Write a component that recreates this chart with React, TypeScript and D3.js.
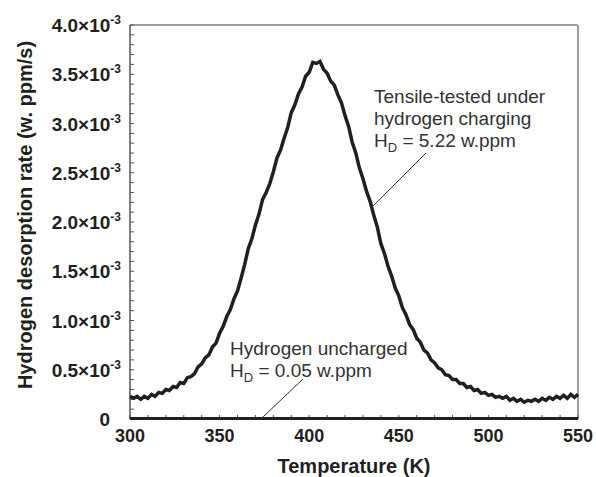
import React from "react";
import * as d3 from "d3";

// Temperature grid (K) and desorption rates (×10^-3 w.ppm/s)
const temps: number[] = [
  300, 302, 304, 306, 308, 310, 312, 314, 316, 318, 320, 322, 324, 326, 328, 330, 332, 334, 336, 338,
  340, 342, 344, 346, 348, 350, 352, 354, 356, 358, 360, 362, 364, 366, 368, 370, 372, 374, 376, 378,
  380, 382, 384, 386, 388, 390, 392, 394, 396, 398, 400, 402, 404, 406, 408, 410, 412, 414, 416, 418,
  420, 422, 424, 426, 428, 430, 432, 434, 436, 438, 440, 442, 444, 446, 448, 450, 452, 454, 456, 458,
  460, 462, 464, 466, 468, 470, 472, 474, 476, 478, 480, 482, 484, 486, 488, 490, 492, 494, 496, 498,
  500, 502, 504, 506, 508, 510, 512, 514, 516, 518, 520, 522, 524, 526, 528, 530, 532, 534, 536, 538,
  540, 542, 544, 546, 548, 550,
];
const chargedRate: number[] = [
  0.23, 0.21, 0.23, 0.20, 0.23, 0.21, 0.25, 0.23, 0.27, 0.26, 0.30, 0.29, 0.33, 0.32, 0.37, 0.36, 0.42, 0.43, 0.46, 0.53,
  0.56, 0.62, 0.65, 0.73, 0.77, 0.87, 0.94, 1.04, 1.11, 1.22, 1.30, 1.43, 1.57, 1.73, 1.83, 1.97, 2.08, 2.23, 2.30, 2.39,
  2.51, 2.65, 2.73, 2.85, 2.96, 3.11, 3.19, 3.30, 3.37, 3.48, 3.52, 3.62, 3.61, 3.63, 3.55, 3.51, 3.43, 3.39, 3.29, 3.21,
  3.08, 2.97, 2.81, 2.70, 2.55, 2.44, 2.31, 2.21, 2.07, 1.95, 1.78, 1.68, 1.55, 1.45, 1.33, 1.25, 1.13, 1.06, 0.96, 0.91,
  0.82, 0.78, 0.70, 0.67, 0.60, 0.57, 0.52, 0.50, 0.45, 0.44, 0.40, 0.40, 0.36, 0.36, 0.32, 0.33, 0.29, 0.30, 0.26, 0.27,
  0.24, 0.25, 0.22, 0.23, 0.21, 0.23, 0.19, 0.21, 0.18, 0.20, 0.17, 0.19, 0.18, 0.20, 0.18, 0.21, 0.19, 0.22, 0.20, 0.23,
  0.21, 0.24, 0.21, 0.25, 0.22, 0.25,
];
const unchargedTemps: number[] = [300, 325, 350, 375, 400, 425, 450, 475, 500, 525, 550];
const unchargedRate: number[] = [0.005, 0.006, 0.005, 0.006, 0.005, 0.004, 0.006, 0.005, 0.005, 0.004, 0.005];

const xTicks: number[] = [300, 350, 400, 450, 500, 550];
const yTicks: number[] = [0, 0.5, 1.0, 1.5, 2.0, 2.5, 3.0, 3.5, 4.0];

const xTitle = "Temperature (K)";
const yTitle = "Hydrogen desorption rate (w. ppm/s)";
const chargedLabel = ["Tensile-tested under", "hydrogen charging"];
const chargedHD = "= 5.22 w.ppm";
const unchargedLabel = ["Hydrogen uncharged"];
const unchargedHD = "= 0.05 w.ppm";

const W = 596;
const H = 477;
const M = { left: 130, right: 578, top: 25, bottom: 419 };
const INK = "#231f20";
const AXIS = "#808080";
const FONT = "'Liberation Sans', Arial, Helvetica, sans-serif";

export default function App() {
  const x = d3.scaleLinear().domain([300, 550]).range([M.left, M.right]);
  const y = d3.scaleLinear().domain([0, 4.0]).range([M.bottom, M.top]);

  const line = d3
    .line<[number, number]>()
    .x((d) => x(d[0]))
    .y((d) => y(d[1]));

  const chargedPts: [number, number][] = temps.map((t, i) => [t, chargedRate[i]]);
  const unchargedPts: [number, number][] = unchargedTemps.map((t, i) => [t, unchargedRate[i]]);

  const xMinor = d3.range(300, 551, 10);
  const yMinor = d3.range(0, 4.001, 0.1);

  const fmt = (v: number) => v.toFixed(1);

  return (
    <svg
      width={W}
      height={H}
      style={{ position: "absolute", left: 0, top: 0, background: "#fff" }}
      fontFamily={FONT}
    >
      {/* frame */}
      <line x1={M.left} x2={M.right} y1={M.top} y2={M.top} stroke={AXIS} strokeWidth={1.5} />
      <line x1={M.right} x2={M.right} y1={M.top} y2={M.bottom} stroke={AXIS} strokeWidth={1.5} />
      <line x1={M.left} x2={M.left} y1={M.top} y2={M.bottom} stroke="#555" strokeWidth={1.5} />
      <line x1={M.left} x2={M.right} y1={M.bottom} y2={M.bottom} stroke="#555" strokeWidth={1.5} />

      {/* y ticks */}
      {yMinor.map((v, i) => (
        <line key={"ym" + i} x1={M.left} x2={M.left + 4} y1={y(v)} y2={y(v)} stroke="#555" strokeWidth={1} />
      ))}
      {/* x ticks */}
      {xMinor.map((v, i) => (
        <line key={"xm" + i} x1={x(v)} x2={x(v)} y1={M.bottom} y2={M.bottom - 4} stroke="#555" strokeWidth={1} />
      ))}

      {/* y tick labels */}
      {yTicks.map((v) =>
        v === 0 ? (
          <text key={"yl" + v} x={110} y={y(v) + 7} textAnchor="end" fontSize={19} fontWeight="bold" fill={INK}>
            0
          </text>
        ) : (
          <text key={"yl" + v} x={121} y={y(v) + 7} textAnchor="end" fontSize={19} fontWeight="bold" fill={INK}>
            {fmt(v)}×10
            <tspan fontSize={12} dy={-8}>
              -3
            </tspan>
          </text>
        )
      )}

      {/* x tick labels */}
      {xTicks.map((v) => (
        <text key={"xl" + v} x={x(v)} y={442} textAnchor="middle" fontSize={18} fontWeight="bold" fill={INK}>
          {v}
        </text>
      ))}

      {/* axis titles */}
      <text x={(M.left + M.right) / 2} y={473} textAnchor="middle" fontSize={20} fontWeight="bold" fill={INK}>
        {xTitle}
      </text>
      <text
        transform={`translate(32, 215) rotate(-90)`}
        textAnchor="middle"
        fontSize={20}
        fontWeight="bold"
        fill={INK}
      >
        {yTitle}
      </text>

      {/* data */}
      <path d={line(unchargedPts) || ""} fill="none" stroke={INK} strokeWidth={3} />
      <path d={line(chargedPts) || ""} fill="none" stroke={INK} strokeWidth={3.5} strokeLinejoin="miter" />

      {/* annotations */}
      <g fontSize={19} fill="#333">
        <text x={374} y={103}>{chargedLabel[0]}</text>
        <text x={374} y={125}>{chargedLabel[1]}</text>
        <text x={374} y={147}>
          H<tspan fontSize={13} dy={5}>D</tspan>
          <tspan dy={-5}> {chargedHD}</tspan>
        </text>
        <text x={230} y={355}>{unchargedLabel[0]}</text>
        <text x={230} y={377}>
          H<tspan fontSize={13} dy={5}>D</tspan>
          <tspan dy={-5}> {unchargedHD}</tspan>
        </text>
      </g>
      <line x1={426} y1={153} x2={x(435)} y2={y(2.15)} stroke="#333" strokeWidth={1} />
      <line x1={303} y1={379} x2={x(373)} y2={y(0.0)} stroke="#333" strokeWidth={1} />
    </svg>
  );
}
